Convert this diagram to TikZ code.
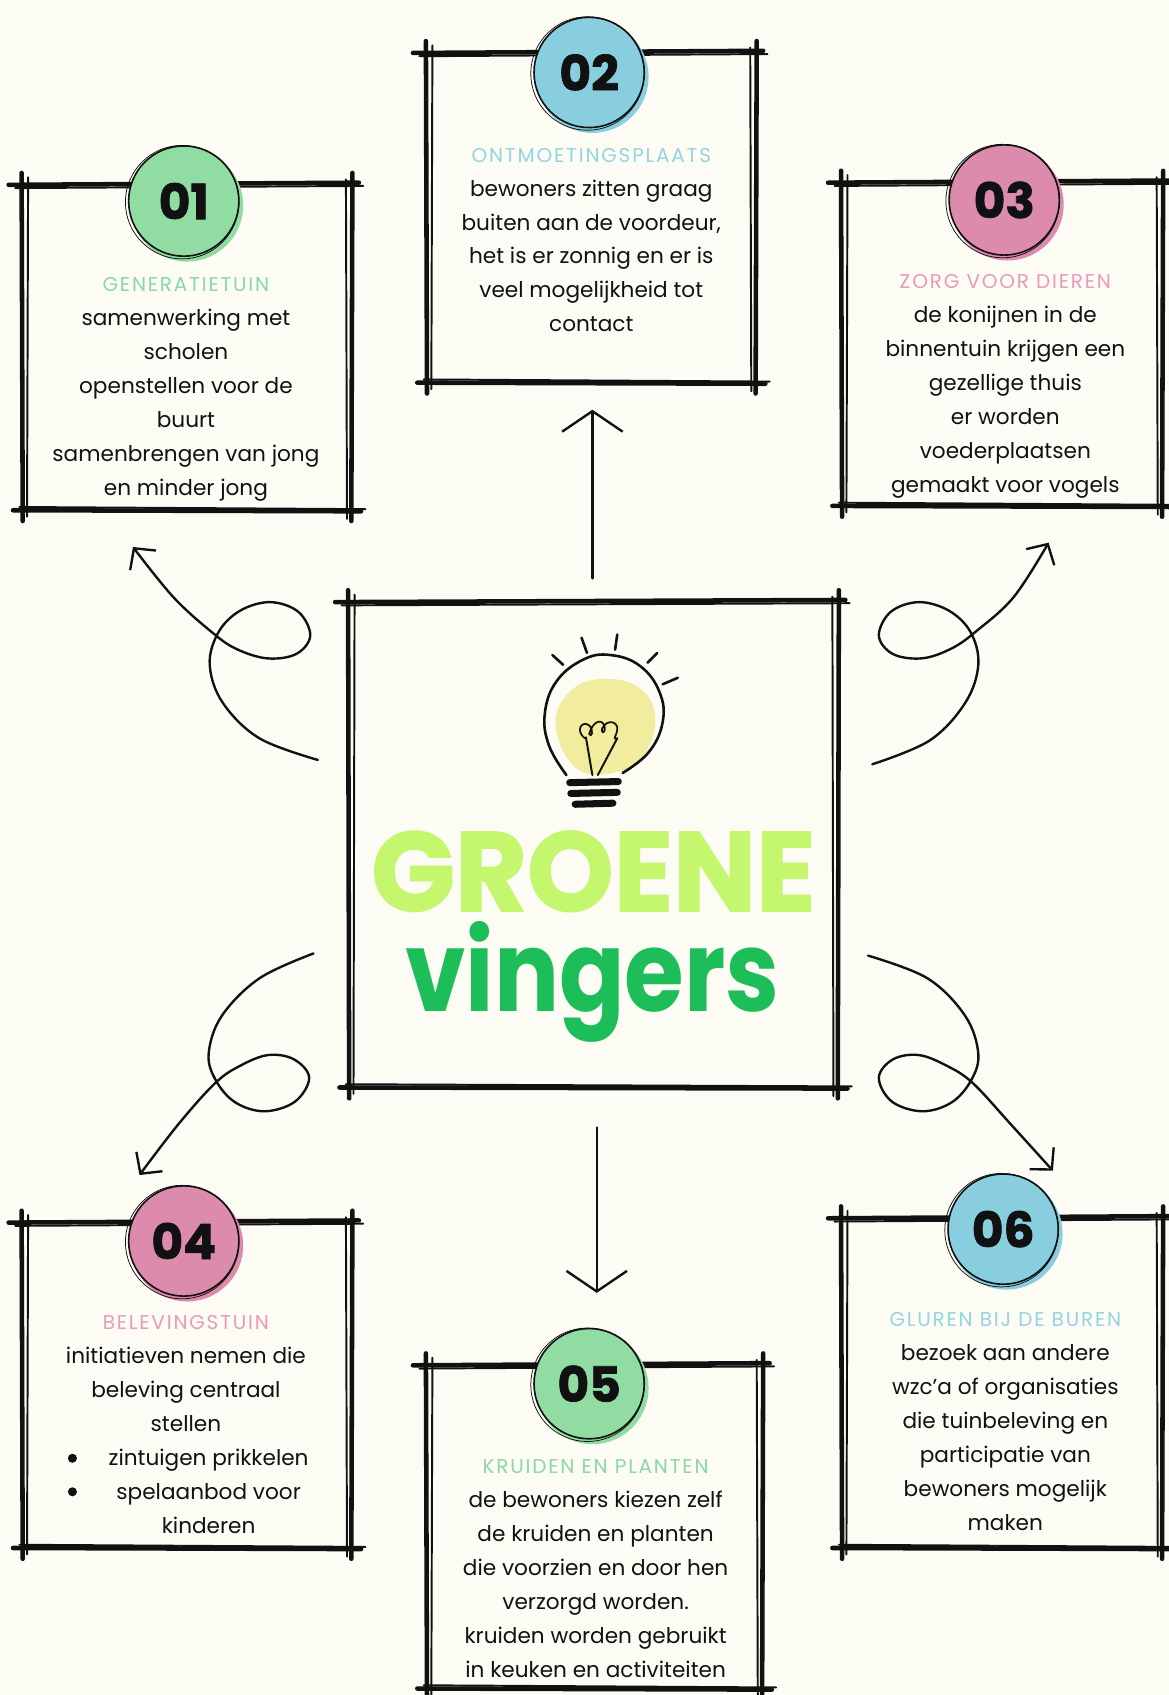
\documentclass[tikz,border=0pt]{standalone}
\usepackage{fontspec}
\setmainfont{Poppins}
\newfontfamily\heavyfont{Poppins}[FakeBold=1.5]
\newfontfamily\titlefont{Poppins}[LetterSpace=9]
\usepackage{graphicx}
\usetikzlibrary{arrows.meta,calc}
\definecolor{bg}{HTML}{FDFCF4}
\definecolor{cgreen}{HTML}{90DCA2}
\definecolor{cblue}{HTML}{88CEDF}
\definecolor{cpink}{HTML}{DD8BAD}
\definecolor{tgreen}{HTML}{8AD8A2}
\definecolor{tblue}{HTML}{93D4E3}
\definecolor{tpink}{HTML}{E69BBC}
\definecolor{groene}{HTML}{C4F66E}
\definecolor{vingc}{HTML}{1DBE5A}
\definecolor{bulbc}{HTML}{F2EC9E}
\definecolor{ink}{HTML}{111111}
\tikzset{
  skA/.style={ink, line width=4.2pt, line cap=round},
  skB/.style={ink, line width=1.8pt, line cap=round},
  txt/.style={inner sep=0pt, text=ink, font=\fontsize{20}{31.4}\selectfont},
  numtxt/.style={inner sep=0pt, text=ink, font=\heavyfont\bfseries\fontsize{45}{45}\selectfont},
  loopc/.style={ink, line width=2.2pt, line cap=round, -{Straight Barb[length=14pt,width=30pt]}},
  straightc/.style={ink, line width=2.2pt, line cap=round, -{Straight Barb[length=19pt,width=56pt]}},
  bulbline/.style={ink, line width=2.4pt, line cap=round, line join=round}
}
\newcommand\sketchbox[5]{%
  \path (#2,#3) coordinate (#1-nw) (#4,#5) coordinate (#1-se);
  \draw[skA] ({#2-12},{#3+1}) -- ({#4+6},{#3-1});
  \draw[skB] ({#2-6},{#3+4}) -- ({#4+10},{#3+2});
  \draw[skA] ({#2-8},{#5}) -- ({#4+8},{#5+1});
  \draw[skB] ({#2-2},{#5-3}) -- ({#4+12},{#5-1});
  \draw[skA] ({#2},{#3-10}) -- ({#2+1},{#5+10});
  \draw[skB] ({#2+6},{#3-6}) -- ({#2+5},{#5+6});
  \draw[skA] ({#4},{#3-10}) -- ({#4-1},{#5+10});
  \draw[skB] ({#4-6},{#3-4}) -- ({#4-5},{#5+8});
}
\newcommand\badge[5]{%
  \fill[#4] ({#2+3},{#3+4}) circle (52);
  \fill[#4] (#2,#3) circle (51);
  \draw[ink, line width=1.5pt] (#2,#3) circle (51);
  \draw[ink, line width=0.7pt] ({#2-1.5},{#3+1}) circle (52.5);
  \node[numtxt] (#1) at (#2,#3) {#5};
}
\newcommand\ttl[2]{{\titlefont\fontsize{18.5}{31.4}\selectfont\color{#1}#2}}
\begin{document}
\begin{tikzpicture}[x=1pt,y=-1pt]
\fill[bg] (0,0) rectangle (1081,1568);
\useasboundingbox (0,0) rectangle (1081,1568);

% ---------- boxes ----------
\sketchbox{b1}{20}{170}{326}{472}
\sketchbox{b2}{394}{48}{700}{354}
\sketchbox{b3}{778}{168}{1076}{468}
\sketchbox{b4}{20}{1130}{326}{1432}
\sketchbox{b5}{394}{1262}{706}{1562}
\sketchbox{b6}{778}{1126}{1076}{1432}
\sketchbox{c}{322}{556}{776}{1006}

% ---------- badges ----------
\badge{n1}{170}{186}{cgreen}{01}
\badge{n2}{545}{67}{cblue}{02}
\badge{n3}{929}{185}{cpink}{03}
\badge{n4}{170}{1148}{cpink}{04}
\badge{n5}{545}{1280}{cgreen}{05}
\badge{n6}{928}{1137}{cblue}{06}

% ---------- texts ----------
\node[txt, anchor=base] (t1) at (172,270) {\begin{tabular}[t]{@{}c@{}}\ttl{tgreen}{GENERATIETUIN}\\ samenwerking met\\ scholen\\ openstellen voor de\\ buurt\\ samenbrengen van jong\\ en minder jong\end{tabular}};
\node[txt, anchor=base] (t2) at (547,150) {\begin{tabular}[t]{@{}c@{}}\ttl{tblue}{ONTMOETINGSPLAATS}\\ bewoners zitten graag\\ buiten aan de voordeur,\\ het is er zonnig en er is\\ veel mogelijkheid tot\\ contact\end{tabular}};
\node[txt, anchor=base] (t3) at (930,267) {\begin{tabular}[t]{@{}c@{}}\ttl{tpink}{ZORG VOOR DIEREN}\\ de konijnen in de\\ binnentuin krijgen een\\ gezellige thuis\\ er worden\\ voederplaatsen\\ gemaakt voor vogels\end{tabular}};
\node[txt, anchor=base] (t4) at (172,1230) {\begin{tabular}[t]{@{}c@{}}\ttl{tpink}{BELEVINGSTUIN}\\ initiatieven nemen die\\ beleving centraal\\ stellen\\ \hspace*{42pt}zintuigen prikkelen\\ \hspace*{42pt}spelaanbod voor\\ \hspace*{42pt}kinderen\end{tabular}};
\fill[ink] (67,1349) circle (4.2);
\fill[ink] (67,1380) circle (4.2);
\node[txt, anchor=base] (t5) at (551,1363) {\begin{tabular}[t]{@{}c@{}}\ttl{tgreen}{KRUIDEN EN PLANTEN}\\ de bewoners kiezen zelf\\ de kruiden en planten\\ die voorzien en door hen\\ verzorgd worden.\\ kruiden worden gebruikt\\ in keuken en activiteiten\end{tabular}};
\node[txt, anchor=base] (t6) at (930,1227) {\begin{tabular}[t]{@{}c@{}}\ttl{tblue}{GLUREN BIJ DE BUREN}\\ bezoek aan andere\\ wzc’a of organisaties\\ die tuinbeleving en\\ participatie van\\ bewoners mogelijk\\ maken\end{tabular}};

% ---------- central title ----------
\node[inner sep=0pt, text=groene, font=\heavyfont\bfseries\fontsize{104}{104}\selectfont] (groene) at (549,806) {\scalebox{0.98}[1]{GROENE}};
\node[inner sep=0pt, text=vingc, font=\bfseries\fontsize{104}{104}\selectfont, anchor=base] (vingers) at (548,936) {\scalebox{0.86}[1]{vingers}};

% ---------- light bulb ----------
\fill[bulbc] plot[smooth cycle, tension=0.7] coordinates {(514,672) (527,640) (557,628) (591,636) (606,662) (598,695) (575,713) (535,712)};
\draw[bulbline] plot[smooth, tension=0.7] coordinates {(524,717) (508,690) (504,660) (515,630) (540,610) (565,606) (592,616) (610,640) (613,668) (600,696) (576,715)};
\draw[bulbline, line width=1.8pt] (548,717) -- (542,682);
\draw[bulbline, line width=1.8pt] (553,717) -- (571,683);
\draw[bulbline, line width=1.6pt] (541,683) .. controls (532,676) and (538,666) .. (545,671) .. controls (550,676) and (547,683) .. (545,679) .. controls (548,668) and (556,664) .. (559,671) .. controls (561,678) and (556,680) .. (557,674) .. controls (561,665) and (572,667) .. (571,675) .. controls (570,682) and (566,684) .. (571,683);
\foreach \yy/\xa/\xb in {724/527/572, 734/528/571, 744/532/567}
  \draw[ink, line width=6.5pt, line cap=round] (\xa,\yy) -- (\xb,{\yy-1});
\draw[bulbline] (511,606) -- (521,615);
\draw[bulbline] (538,590) -- (543,604);
\draw[bulbline] (571,587) -- (569,601);
\draw[bulbline] (608,604) -- (599,613);
\draw[bulbline] (627,627) -- (613,633);

% ---------- connectors ----------
\coordinate (a2s) at (548,535); \coordinate (a2e) at (548,379);
\draw[straightc] (a2s) -- (a2e);
\coordinate (a5s) at (552,1043); \coordinate (a5e) at (552,1196);
\draw[straightc] (a5s) -- (a5e);

\coordinate (l1s) at (294,703); \coordinate (l1e) at (123,506);
\draw[loopc] plot[smooth, tension=0.6] coordinates {(l1s) (240,683) (206,650) (194,615) (202,585) (222,565) (250,557) (276,566) (287,588) (274,605) (247,609) (218,600) (195,584) (160,552) (l1e)};

\coordinate (l3s) at (807,707); \coordinate (l3e) at (970,502);
\draw[loopc] plot[smooth, tension=0.6] coordinates {(l3s) (860,685) (893,650) (905,615) (898,585) (878,565) (850,557) (824,566) (813,588) (826,605) (853,609) (880,600) (903,584) (938,552) (l3e)};

\coordinate (l4s) at (290,882); \coordinate (l4e) at (129,1087);
\draw[loopc] plot[smooth, tension=0.6] coordinates {(l4s) (240,905) (205,940) (193,975) (200,1000) (218,1020) (245,1028) (273,1019) (286,997) (272,980) (248,976) (222,986) (199,1002) (165,1040) (l4e)};

\coordinate (l6s) at (803,884); \coordinate (l6e) at (974,1083);
\draw[loopc] plot[smooth, tension=0.6] coordinates {(l6s) (858,905) (893,940) (905,975) (898,1000) (880,1020) (853,1028) (825,1019) (813,997) (826,980) (850,976) (876,986) (900,1002) (935,1040) (l6e)};
\end{tikzpicture}
\end{document}
